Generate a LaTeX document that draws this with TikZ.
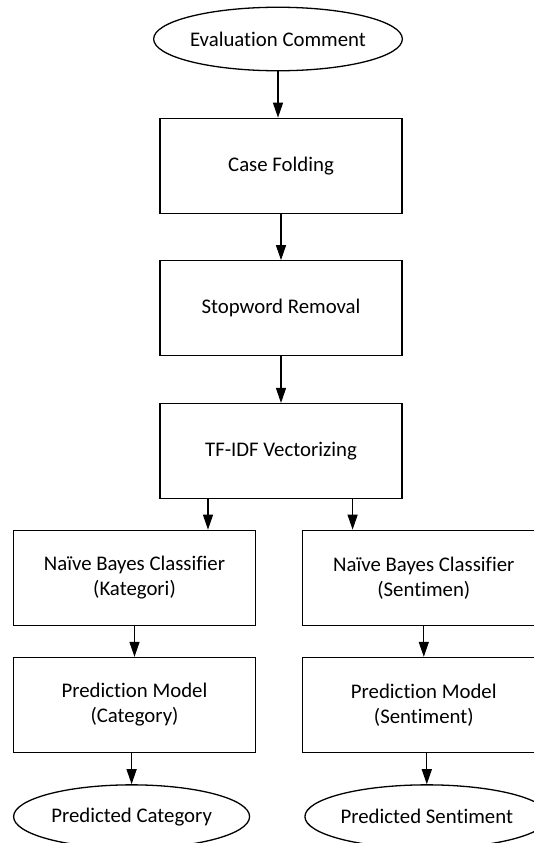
\documentclass[tikz,border=0pt]{standalone}
\usepackage{fontspec}
\setmainfont[Ligatures={NoCommon,NoDiscretionary,NoContextual}]{Carlito}
\usetikzlibrary{shapes.geometric,arrows.meta}
\begin{document}
\begin{tikzpicture}[x=1bp,y=-1bp,
  every node/.style={font=\fontsize{20.8bp}{25bp}\selectfont},
  procbox/.style={draw,line width=1.3bp,rectangle,minimum width=242bp,minimum height=95bp,inner sep=0pt,align=center},
  termell/.style={draw,line width=1.3bp,ellipse,minimum width=236bp,minimum height=63.5bp,inner sep=0pt},
  arr/.style={line width=1.3bp,-{Triangle[length=15bp,width=10bp]}}]
\useasboundingbox (0,0) rectangle (534,843);
\clip (0,0) rectangle (534,843);
\node[termell] (ec) at (278,39) {Evaluation Comment};
\node[procbox] (cf) at (281,165.8) {Case Folding};
\node[procbox] (sw) at (281,308.3) {Stopword Removal};
\node[procbox] (tf) at (281,451.1) {TF-IDF Vectorizing};
\node[procbox] (nk) at (134.5,577.8) {Naïve Bayes Classifier\\(Kategori)};
\node[procbox] (ns) at (423.8,577.8) {Naïve Bayes Classifier\\(Sentimen)};
\node[procbox] (pc) at (134.5,705) {Prediction Model\\(Category)};
\node[procbox] (ps) at (423.8,705) {Prediction Model\\(Sentiment)};
\node[termell] (pcat) at (131.6,816.6) {Predicted Category};
\node[termell] (psent) at (426.8,816.6) {Predicted Sentiment};
\draw[arr] (ec.south) -- (ec.south |- cf.north);
\draw[arr] (cf.south) -- (sw.north);
\draw[arr] (sw.south) -- (tf.north);
\draw[arr] ([xshift=-73bp]tf.south) -- ([xshift=-73bp]tf.south |- nk.north);
\draw[arr] ([xshift=71.6bp]tf.south) -- ([xshift=71.6bp]tf.south |- ns.north);
\draw[arr] (nk.south) -- (pc.north);
\draw[arr] (ns.south) -- (ps.north);
\draw[arr] (pcat.north |- pc.south) -- (pcat.north);
\draw[arr] (psent.north |- ps.south) -- (psent.north);
\end{tikzpicture}
\end{document}
